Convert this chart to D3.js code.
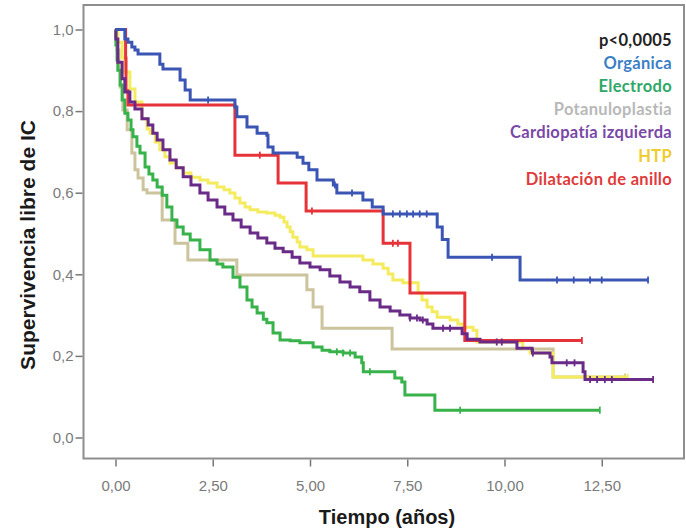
<!DOCTYPE html>
<html><head><meta charset="utf-8">
<script src="https://cdn.jsdelivr.net/npm/d3@7"></script>
<style>body{margin:0;background:#fff}svg{display:block}</style>
</head><body>
<svg id="c" width="686" height="532"></svg>
<script>
// ---- data (time in years, survival) ----
const xTicks = [0, 2.5, 5, 7.5, 10, 12.5];
const yTicks = [0, 0.2, 0.4, 0.6, 0.8, 1.0];
const groups = ["Orgánica","Electrodo","Potanuloplastia","Cardiopatía izquierda","HTP","Dilatación de anillo"];
const pValue = "p<0,0005";

const organicaT = [0,0.24,0.32,0.42,0.50,0.58,1.14,1.22,1.66,1.79,1.92,3.07,3.12,3.38,3.64,3.89,3.92,4.05,4.67,4.82,4.97,5.18,5.60,5.69,6.36,6.60,6.88,8.27,8.40,8.55,10.40];
const organicaS = [1,0.977,0.969,0.957,0.950,0.940,0.915,0.903,0.876,0.852,0.827,0.810,0.786,0.761,0.746,0.741,0.712,0.697,0.687,0.672,0.656,0.631,0.619,0.599,0.582,0.565,0.548,0.516,0.485,0.442,0.386];
const organicaEnd = 13.69;
const organicaCens = [2.38,5.64,6.08,7.13,7.31,7.49,7.65,7.82,8.0,9.68,11.35,11.78,12.2,12.5];

const electrodoT = [0,0.01,0.04,0.06,0.12,0.17,0.24,0.32,0.40,0.45,0.55,0.63,0.76,0.86,0.96,1.07,1.20,1.32,1.45,1.58,1.74,1.92,2.17,2.43,2.61,2.76,3.02,3.20,3.38,3.51,3.64,3.80,3.89,4.05,4.23,4.49,4.74,5.08,5.31,5.51,5.85,6.16,6.33,6.37,7.18,7.36,7.44,8.21];
const electrodoS = [1,0.962,0.925,0.900,0.864,0.827,0.795,0.778,0.754,0.737,0.714,0.697,0.663,0.646,0.631,0.614,0.594,0.565,0.533,0.516,0.499,0.484,0.460,0.435,0.425,0.418,0.393,0.369,0.337,0.320,0.305,0.290,0.281,0.256,0.239,0.237,0.232,0.222,0.214,0.210,0.207,0.197,0.183,0.161,0.146,0.136,0.104,0.067];
const electrodoEnd = 12.45;
const electrodoCens = [5.69,5.85,6.03,6.54,8.86];

const potanuloT = [0,0.04,0.09,0.12,0.19,0.30,0.42,0.50,0.58,0.71,0.81,1.20,1.53,1.86,3.12,4.92,5.08,5.31,7.11,11.25];
const potanuloS = [1,0.95,0.90,0.859,0.803,0.754,0.697,0.656,0.636,0.607,0.599,0.533,0.476,0.435,0.398,0.362,0.320,0.268,0.217,0.148];
const potanuloEnd = 13.1;
const potanuloCens = [];

const cardioT = [0,0.01,0.06,0.17,0.24,0.37,0.50,0.68,0.84,0.96,1.07,1.22,1.40,1.56,1.74,1.94,2.17,2.38,2.61,2.81,3.02,3.23,3.46,3.66,3.89,4.10,4.31,4.54,4.74,5.00,5.26,5.51,5.77,6.03,6.28,6.54,6.80,7.06,7.31,7.57,7.83,8.01,8.16,8.91,9.04,9.37,10.32,10.71,10.72,11.17,11.22,12.02,12.07];
const cardioS = [1,0.977,0.920,0.879,0.847,0.822,0.805,0.781,0.766,0.746,0.729,0.705,0.680,0.661,0.639,0.619,0.599,0.582,0.565,0.548,0.533,0.516,0.501,0.489,0.477,0.464,0.455,0.442,0.428,0.418,0.411,0.396,0.381,0.369,0.357,0.337,0.320,0.310,0.300,0.293,0.288,0.278,0.268,0.254,0.241,0.234,0.219,0.214,0.207,0.197,0.183,0.161,0.142];
const cardioEnd = 13.82;
const cardioCens = [7.57,7.75,7.9,8.42,8.6,9.8,9.93,10.73,11.6,11.8,12.2,12.38,12.58,12.76];

const htpT = [0,0.06,0.17,0.24,0.37,0.50,0.68,0.81,0.89,1.02,1.14,1.27,1.40,1.56,1.74,1.94,2.17,2.38,2.61,2.79,2.94,3.07,3.20,3.33,3.46,3.66,3.89,4.10,4.23,4.33,4.41,4.49,4.56,4.67,4.74,4.92,5.08,6.36,6.62,6.88,7.01,7.13,7.39,7.78,7.88,8.01,8.14,8.27,8.60,8.80,8.93,9.19,9.29,10.47,10.66,11.25];
const htpS = [1,0.969,0.930,0.896,0.854,0.822,0.781,0.756,0.746,0.724,0.705,0.688,0.673,0.661,0.648,0.638,0.631,0.624,0.614,0.607,0.599,0.587,0.575,0.565,0.558,0.553,0.550,0.545,0.540,0.528,0.516,0.504,0.491,0.479,0.467,0.460,0.445,0.435,0.425,0.415,0.401,0.386,0.379,0.354,0.337,0.320,0.308,0.295,0.288,0.278,0.270,0.263,0.234,0.219,0.207,0.148];
const htpEnd = 13.17;
const htpCens = [];

const dilatT = [0,0.26,0.27,0.32,3.07,4.18,4.90,6.88,7.57,8.98];
const dilatS = [1,0.93,0.85,0.815,0.692,0.624,0.555,0.476,0.354,0.238];
const dilatEnd = 11.99;
const dilatCens = [3.71,5.05,7.13,7.26];

// ---- styles ----
const lineColors = {"Orgánica":"#3a55b3","Electrodo":"#38b24a","Potanuloplastia":"#cbc49c","Cardiopatía izquierda":"#6a2a88","HTP":"#f4ec5e","Dilatación de anillo":"#e6333a"};
const legendColors = {"Orgánica":"#3b7fc6","Electrodo":"#2fa868","Potanuloplastia":"#b8b8b8","Cardiopatía izquierda":"#7a48a6","HTP":"#f0cc2c","Dilatación de anillo":"#e03a3a"};

const series = [
  {name:"Potanuloplastia", t:potanuloT, s:potanuloS, end:potanuloEnd, cens:potanuloCens},
  {name:"HTP", t:htpT, s:htpS, end:htpEnd, cens:htpCens},
  {name:"Electrodo", t:electrodoT, s:electrodoS, end:electrodoEnd, cens:electrodoCens},
  {name:"Dilatación de anillo", t:dilatT, s:dilatS, end:dilatEnd, cens:dilatCens},
  {name:"Cardiopatía izquierda", t:cardioT, s:cardioS, end:cardioEnd, cens:cardioCens},
  {name:"Orgánica", t:organicaT, s:organicaS, end:organicaEnd, cens:organicaCens}
];

const svg = d3.select("#c");
const frame = {left:83.5, right:684, top:5, bottom:458.5};
const x = d3.scaleLinear().domain([0,12.5]).range([115.5, 115.5+12.5*38.9]);
const y = d3.scaleLinear().domain([0,1]).range([437.5, 29.5]);
const loc = d3.formatLocale({decimal:",", thousands:".", grouping:[3], currency:["","€"]});

// frame
svg.append("rect").attr("x",frame.left).attr("y",frame.top)
  .attr("width",frame.right-frame.left).attr("height",frame.bottom-frame.top)
  .attr("fill","none").attr("stroke","#8e8e8e").attr("stroke-width",2);

// axes
const yAxis = d3.axisLeft(y).tickValues(yTicks).tickFormat(loc.format(".1f")).tickSize(7).tickPadding(2);
const gy = svg.append("g").attr("transform",`translate(${frame.left-1},0)`).call(yAxis);
const xAxis = d3.axisBottom(x).tickValues(xTicks).tickFormat(loc.format(".2f")).tickSize(7).tickPadding(14);
const gx = svg.append("g").attr("transform",`translate(0,${frame.bottom+1})`).call(xAxis);
[gx,gy].forEach(g=>{
  g.select(".domain").remove();
  g.selectAll(".tick line").attr("stroke","#777").attr("stroke-width",1.5);
  g.selectAll(".tick text").attr("fill","#7a7a7a").style("font-family","'Liberation Sans',Arial,sans-serif").style("font-size","15px");
});

// axis titles
svg.append("text").attr("x",387).attr("y",524).attr("text-anchor","middle")
  .style("font-family","'Liberation Sans',Arial,sans-serif").style("font-weight","bold").style("font-size","20px").attr("fill","#1a1a1a")
  .text("Tiempo (años)");
svg.append("text").attr("transform","translate(35,245) rotate(-90)").attr("text-anchor","middle")
  .style("font-family","'Liberation Sans',Arial,sans-serif").style("font-weight","bold").style("font-size","21px").attr("fill","#1a1a1a")
  .text("Supervivencia libre de IC");

// curves
const line = d3.line().x(d=>x(d[0])).y(d=>y(d[1])).curve(d3.curveStepAfter);
function survAt(sr, tt){ let v=sr.s[0]; for(let i=0;i<sr.t.length;i++){ if(sr.t[i]<=tt) v=sr.s[i]; } return v; }
series.forEach(sr=>{
  const pts = sr.t.map((t,i)=>[t,sr.s[i]]);
  pts.push([sr.end, sr.s[sr.s.length-1]]);
  const g = svg.append("g");
  g.append("path").attr("d",line(pts)).attr("fill","none")
    .attr("stroke",lineColors[sr.name]).attr("stroke-width",3).attr("stroke-linejoin","miter");
  const cens = sr.cens.concat([sr.end]);
  g.selectAll("line.c").data(cens).join("line").attr("class","c")
    .attr("x1",d=>x(d)).attr("x2",d=>x(d))
    .attr("y1",d=>y(survAt(sr,d))-3.5).attr("y2",d=>y(survAt(sr,d))+3.5)
    .attr("stroke",lineColors[sr.name]).attr("stroke-width",1.8);
});

// legend
const lg = svg.append("g").style("font-family","Lato,'Open Sans',sans-serif").style("font-weight","bold").style("font-size","16.5px").style("letter-spacing","0.3px");
lg.append("text").attr("x",672).attr("y",46).attr("text-anchor","end").attr("fill","#222").text(pValue);
groups.forEach((gname,i)=>{
  lg.append("text").attr("x",672).attr("y",68.5+i*23.3).attr("text-anchor","end")
    .attr("fill",legendColors[gname]).text(gname);
});
</script>
</body></html>
